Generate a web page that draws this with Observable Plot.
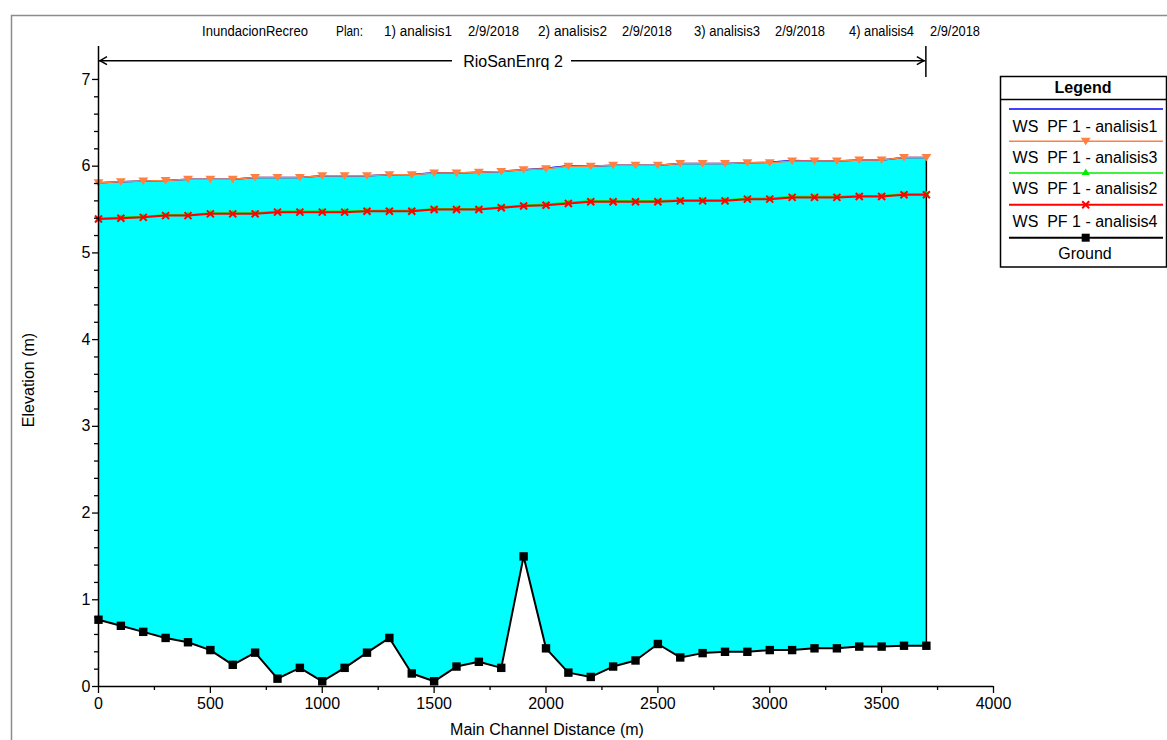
<!DOCTYPE html>
<html><head><meta charset="utf-8">
<script src="https://cdn.jsdelivr.net/npm/d3@7"></script>
<script src="https://cdn.jsdelivr.net/npm/@observablehq/plot@0.6"></script>
<style>
body{margin:0;background:#fff;}
#wrap{position:relative;width:1167px;height:740px;overflow:hidden;font-family:"Liberation Sans",Arial,sans-serif;background:#fff;}
#wrap svg{position:absolute;left:0;top:0;}
</style></head><body><div id="wrap"></div>
<script>
// ---- data ----
const stations = [0,100,200,300,400,500,600,700,800,900,1000,1100,1200,1300,1400,1500,1600,1700,1800,1900,2000,2100,2200,2300,2400,2500,2600,2700,2800,2900,3000,3100,3200,3300,3400,3500,3600,3700];
const ground = [0.77,0.70,0.63,0.56,0.51,0.42,0.25,0.39,0.09,0.215,0.06,0.215,0.39,0.56,0.15,0.06,0.23,0.285,0.215,1.50,0.44,0.16,0.11,0.23,0.30,0.49,0.335,0.385,0.40,0.40,0.42,0.42,0.44,0.44,0.46,0.46,0.47,0.47];
const wsAnalisis1 = [5.81,5.82,5.83,5.835,5.85,5.85,5.85,5.87,5.87,5.87,5.89,5.89,5.89,5.90,5.905,5.925,5.92,5.93,5.94,5.96,5.975,6.005,6.00,6.01,6.01,6.01,6.03,6.03,6.03,6.04,6.045,6.065,6.06,6.06,6.07,6.07,6.10,6.10];
const wsAnalisis3 = [5.81,5.82,5.83,5.835,5.85,5.85,5.85,5.87,5.87,5.87,5.89,5.89,5.89,5.90,5.90,5.92,5.92,5.93,5.94,5.96,5.97,6.00,6.00,6.01,6.01,6.01,6.03,6.03,6.03,6.04,6.04,6.06,6.06,6.06,6.07,6.07,6.10,6.10];
const wsAnalisis2 = [5.40,5.41,5.42,5.44,5.44,5.46,5.46,5.46,5.48,5.48,5.48,5.48,5.49,5.49,5.49,5.51,5.51,5.51,5.53,5.55,5.56,5.58,5.60,5.60,5.60,5.60,5.61,5.61,5.61,5.63,5.63,5.65,5.65,5.65,5.66,5.66,5.68,5.68];
const wsAnalisis4 = [5.39,5.40,5.41,5.43,5.43,5.45,5.45,5.45,5.47,5.47,5.47,5.47,5.48,5.48,5.48,5.50,5.50,5.50,5.52,5.54,5.55,5.57,5.59,5.59,5.59,5.59,5.60,5.60,5.60,5.62,5.62,5.64,5.64,5.64,5.65,5.65,5.67,5.67];
const xTicks = [0,500,1000,1500,2000,2500,3000,3500,4000];
const yTicks = [0,1,2,3,4,5,6,7];
const titleParts = ["InundacionRecreo","Plan:","1) analisis1","2/9/2018","2) analisis2","2/9/2018","3) analisis3","2/9/2018","4) analisis4","2/9/2018"];
const reachName = "RioSanEnrq 2";
const legendTitle = "Legend";
const legendLabels = ["WS  PF 1 - analisis1","WS  PF 1 - analisis3","WS  PF 1 - analisis2","WS  PF 1 - analisis4","Ground"];
const xLabel = "Main Channel Distance (m)";
const yLabel = "Elevation (m)";

// ---- build ----
const rows = stations.map((x,i)=>({x, ground:ground[i], a1:wsAnalisis1[i], a3:wsAnalisis3[i], a2:wsAnalisis2[i], a4:wsAnalisis4[i]}));
const xMinor = d3.range(0,4001,250).filter(v=>!xTicks.includes(v));
const yMinor = d3.range(0,36).map(i=>+(i*0.2).toFixed(1)).filter(v=>!yTicks.includes(v));

const rad = s => Math.sqrt(s/Math.PI);
const invTri = {draw(c,s){const r=rad(s);c.moveTo(-r,-0.7*r);c.lineTo(r,-0.7*r);c.lineTo(0,0.8*r);c.closePath();}};
const upTri = {draw(c,s){const r=rad(s);c.moveTo(0,-0.9*r);c.lineTo(r,0.7*r);c.lineTo(-r,0.7*r);c.closePath();}};
const xMark = {draw(c,s){const r=rad(s);c.moveTo(-r,-r);c.lineTo(r,r);c.moveTo(r,-r);c.lineTo(-r,r);}};
const sq = {draw(c,s){const r=rad(s);c.rect(-r,-r,2*r,2*r);}};

const BLUE="#0000FF", ORANGE="#FF8040", GREEN="#00EE00", RED="#FF0000";
const plot = Plot.plot({
  width:1167, height:740,
  marginLeft:98, marginRight:174, marginTop:46, marginBottom:54,
  x:{domain:[0,4000], label:null},
  y:{domain:[0,7.38], label:null},
  style:{fontFamily:'"Liberation Sans", Arial, sans-serif', fontSize:"16px", background:"transparent", color:"#000", overflow:"visible"},
  marks:[
    Plot.areaY(rows,{x:"x", y1:"ground", y2:"a1", fill:"#00FFFF", curve:"linear"}),
    Plot.ruleX(rows.slice(-1),{x:"x", y1:"ground", y2:"a1", stroke:"#000", strokeWidth:1.5}),
    Plot.line(rows,{x:"x", y:"a1", stroke:BLUE, strokeWidth:1.5}),
    Plot.line(rows,{x:"x", y:"a3", stroke:ORANGE, strokeWidth:1.5}),
    Plot.dot(rows,{x:"x", y:"a3", symbol:invTri, r:5, fill:ORANGE, stroke:"none"}),
    Plot.line(rows,{x:"x", y:"a2", stroke:GREEN, strokeWidth:1.5}),
    Plot.dot(rows,{x:"x", y:"a2", symbol:upTri, r:3.5, fill:GREEN, stroke:"none"}),
    Plot.line(rows,{x:"x", y:"a4", stroke:RED, strokeWidth:2}),
    Plot.dot(rows,{x:"x", y:"a4", symbol:xMark, r:3.5, stroke:RED, strokeWidth:2, fill:"none"}),
    Plot.line(rows,{x:"x", y:"ground", stroke:"#000", strokeWidth:2}),
    Plot.dot(rows,{x:"x", y:"ground", symbol:sq, r:4.2, fill:"#000", stroke:"none"}),
    Plot.ruleY([0],{stroke:"#000", strokeWidth:1.5}),
    Plot.ruleX([0],{stroke:"#000", strokeWidth:1.5}),
    Plot.axisX({ticks:xTicks, tickSize:7, tickPadding:4, fontSize:16, label:null, strokeWidth:1.3, tickFormat:d=>String(d)}),
    Plot.axisX({ticks:xMinor, tickSize:4, tickFormat:()=>"", label:null, strokeWidth:1.3}),
    Plot.axisY({ticks:yTicks, tickSize:6, tickPadding:2, fontSize:16, label:null, strokeWidth:1.3, tickFormat:d=>String(d)}),
    Plot.axisY({ticks:yMinor, tickSize:4, tickFormat:()=>"", label:null, strokeWidth:1.3})
  ]
});
const wrap = document.getElementById("wrap");
wrap.appendChild(plot);

const sx = plot.scale("x"), sy = plot.scale("y");
const ov = d3.select(wrap).append("svg").attr("width",1167).attr("height",740)
  .style("font-family",'"Liberation Sans", Arial, sans-serif').style("pointer-events","none");

// outer frame
ov.append("path").attr("d","M11.5,740V15.5H1167").attr("fill","none").attr("stroke","#8c8c8c").attr("stroke-width",1.5);

// title line
const titleX = [202,336,384,468,538,622,694,775,849,930];
const titleW = [106,27,68,51,69,50,66,50,65,50];
titleParts.forEach((t,i)=>{
  ov.append("text").attr("x",titleX[i]).attr("y",36).attr("font-size",14)
    .attr("textLength",titleW[i]).attr("lengthAdjust","spacingAndGlyphs").text(t);
});

// reach arrow
const ax0 = sx.apply(0), ax1 = sx.apply(3700), ay = 60.7;
const g = ov.append("g").attr("stroke","#000").attr("stroke-width",1.5).attr("fill","none");
g.append("line").attr("x1",ax0+1).attr("x2",452).attr("y1",ay).attr("y2",ay);
g.append("line").attr("x1",571).attr("x2",ax1-1).attr("y1",ay).attr("y2",ay);
g.append("path").attr("d",`M${ax0+9},${ay-4}L${ax0+2},${ay}L${ax0+9},${ay+4}`);
g.append("path").attr("d",`M${ax1-9},${ay-4}L${ax1-2},${ay}L${ax1-9},${ay+4}`);
g.append("line").attr("x1",ax1).attr("x2",ax1).attr("y1",46).attr("y2",77);
ov.append("text").attr("x",513).attr("y",66.5).attr("text-anchor","middle").attr("font-size",16).text(reachName);

// axis titles
ov.append("text").attr("x",547).attr("y",735).attr("text-anchor","middle").attr("font-size",16).text(xLabel);
ov.append("text").attr("transform","translate(34,380) rotate(-90)").attr("text-anchor","middle").attr("font-size",16).text(yLabel);

// legend
const L = ov.append("g");
L.append("rect").attr("x",1000.5).attr("y",76.5).attr("width",166).attr("height",190.5).attr("fill","#fff").attr("stroke","#000").attr("stroke-width",1.5);
L.append("line").attr("x1",1000).attr("x2",1167).attr("y1",99.5).attr("y2",99.5).attr("stroke","#000").attr("stroke-width",1.5);
L.append("text").attr("x",1083).attr("y",93).attr("text-anchor","middle").attr("font-size",16).attr("font-weight","bold").text(legendTitle);
const legLines = [
  {y:109, c:BLUE, w:1.5, sym:null},
  {y:141.3, c:ORANGE, w:1.5, sym:"inv"},
  {y:173, c:GREEN, w:1.5, sym:"up"},
  {y:204.7, c:RED, w:2, sym:"x"},
  {y:237.7, c:"#000", w:2, sym:"sq"}
];
const textY = [131.7,162.7,194,226.5,259.3];
const mx = 1085.7;
legLines.forEach((d,i)=>{
  L.append("line").attr("x1",1009).attr("x2",1163).attr("y1",d.y).attr("y2",d.y).attr("stroke",d.c).attr("stroke-width",d.w);
  if(d.sym==="inv") L.append("path").attr("d",`M${mx-5},${d.y-3.5}L${mx+5},${d.y-3.5}L${mx},${d.y+4}Z`).attr("fill",d.c);
  if(d.sym==="up") L.append("path").attr("d",`M${mx},${d.y-4.5}L${mx+4},${d.y+2}L${mx-4},${d.y+2}Z`).attr("fill",d.c);
  if(d.sym==="x") L.append("path").attr("d",`M${mx-3.5},${d.y-3.5}L${mx+3.5},${d.y+3.5}M${mx+3.5},${d.y-3.5}L${mx-3.5},${d.y+3.5}`).attr("stroke",d.c).attr("stroke-width",2);
  if(d.sym==="sq") L.append("rect").attr("x",mx-4).attr("y",d.y-4).attr("width",8).attr("height",8).attr("fill",d.c);
  L.append("text").attr("x",1085).attr("y",textY[i]).attr("text-anchor","middle").attr("font-size",16).attr("xml:space","preserve").style("white-space","pre").text(legendLabels[i]);
});
</script></body></html>
